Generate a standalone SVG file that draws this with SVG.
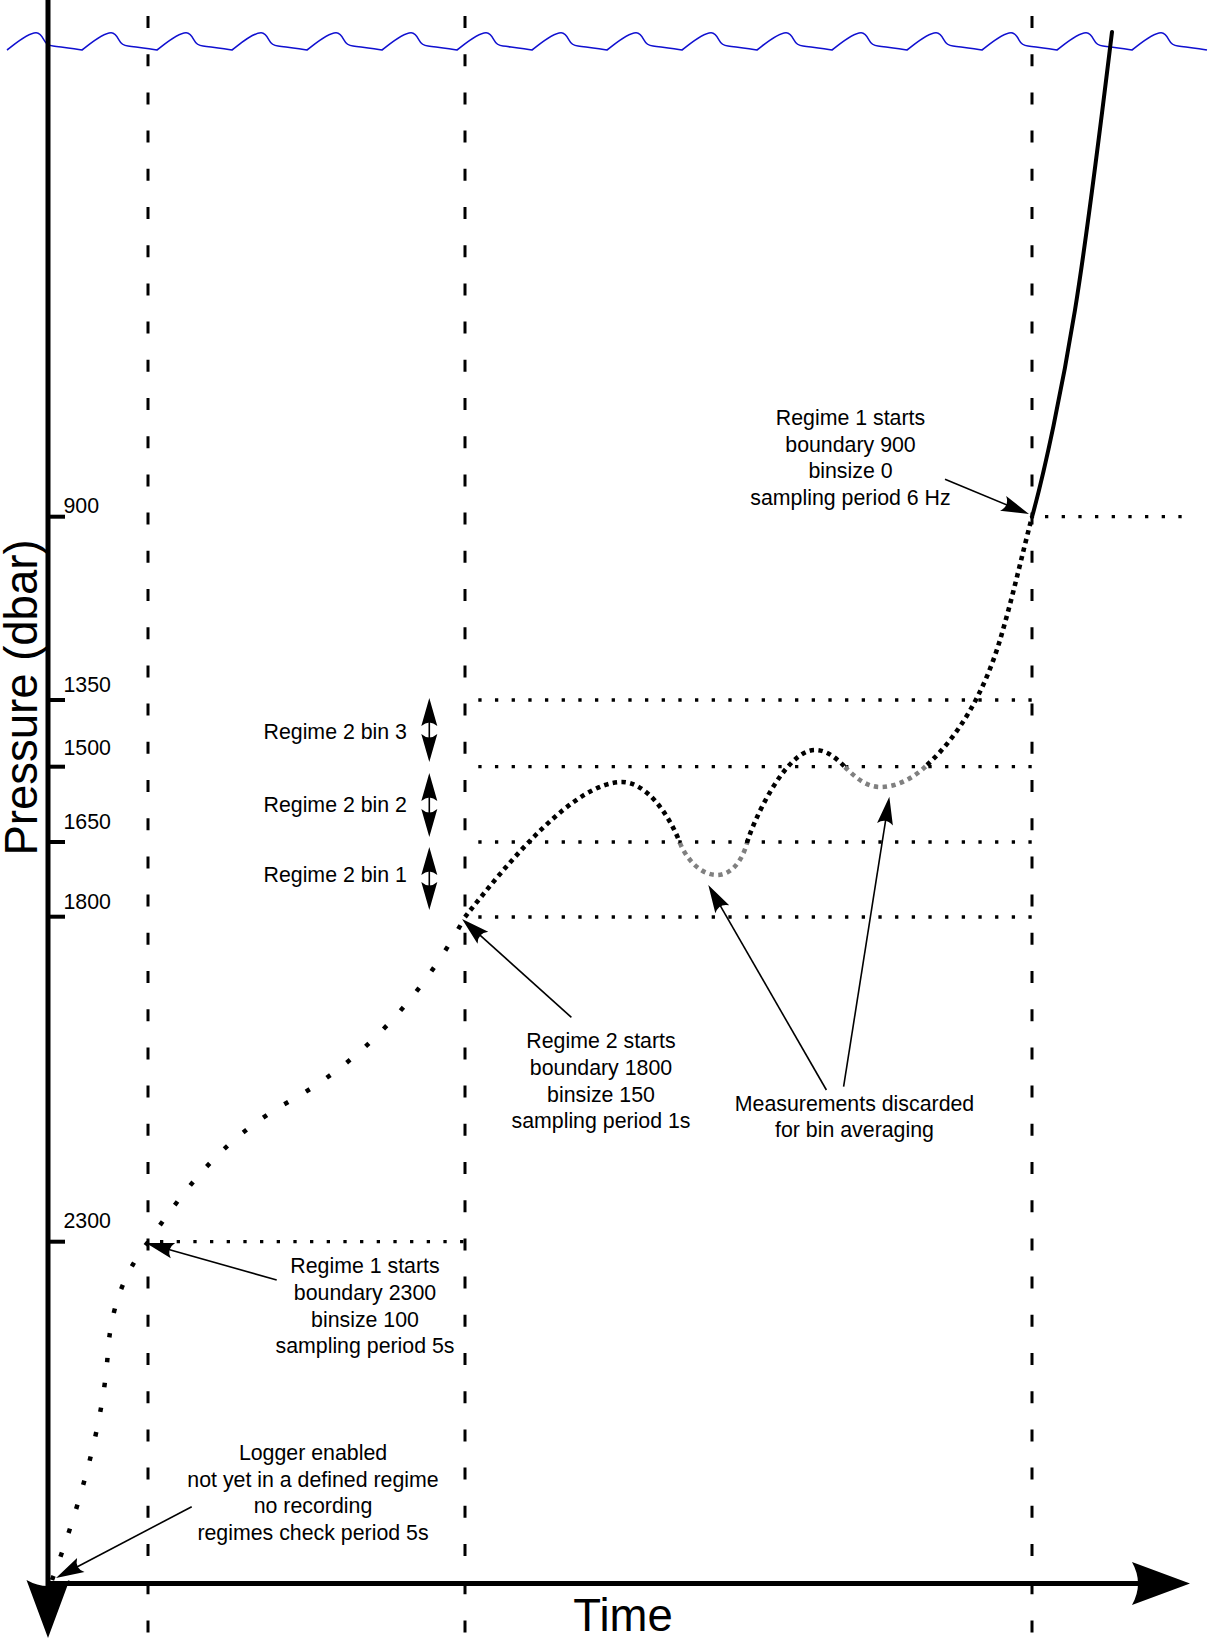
<svg xmlns="http://www.w3.org/2000/svg" width="1208" height="1642" viewBox="0 0 1208 1642">
<style>
.t{font-family:"Liberation Sans",Arial,sans-serif;font-size:21.33px;fill:#000}
.c{text-anchor:middle}
.big{font-family:"Liberation Sans",Arial,sans-serif;font-size:45.5px;fill:#000}
.vdash{stroke:#000;stroke-width:3;stroke-dasharray:12 26.2;fill:none}
.hdot{stroke:#000;stroke-width:3.3;stroke-dasharray:3.3 13.37;fill:none}
.tick{stroke:#000;stroke-width:4;fill:none}
.axis{stroke:#000;stroke-width:5;fill:none}
.sparse{stroke:#000;stroke-width:4.5;stroke-dasharray:4.5 20.5;fill:none}
.dense{stroke:#000;stroke-width:4.6;stroke-dasharray:4.4 4.4;fill:none}
.gray{stroke:#808080}
.solid{stroke:#000;stroke-width:4;fill:none;stroke-linecap:round}
.ann{stroke:#000;stroke-width:1.6;fill:none}
.wave{stroke:#1010d0;stroke-width:1.6;fill:none}
</style>
<defs>
<marker id="ah" markerUnits="userSpaceOnUse" viewBox="-30 -10 32 20" refX="-8" refY="0" markerWidth="32" markerHeight="20" orient="auto-start-reverse" overflow="visible">
<path d="M0,0 L-28,-8 Q-21,0 -28,8 Z" fill="#000"/>
</marker>
<marker id="bigah" markerUnits="userSpaceOnUse" viewBox="-62 -24 64 48" refX="-20" refY="0" markerWidth="64" markerHeight="48" orient="auto" overflow="visible">
<path d="M0,0 L-58,-21.5 Q-46,0 -58,21.5 Z" fill="#000"/>
</marker>
</defs>
<rect width="1208" height="1642" fill="#fff"/>

<g id="sea-surface">
<path class="wave" d="M7,50 c8,-6 20,-17 29,-17.3 c4,-0.1 6,3.3 8,7.3 c2,4 4,5.5 9,6 c12,1.5 22,2.5 29,4 c8,-6 20,-17 29,-17.3 c4,-0.1 6,3.3 8,7.3 c2,4 4,5.5 9,6 c12,1.5 22,2.5 29,4 c8,-6 20,-17 29,-17.3 c4,-0.1 6,3.3 8,7.3 c2,4 4,5.5 9,6 c12,1.5 22,2.5 29,4 c8,-6 20,-17 29,-17.3 c4,-0.1 6,3.3 8,7.3 c2,4 4,5.5 9,6 c12,1.5 22,2.5 29,4 c8,-6 20,-17 29,-17.3 c4,-0.1 6,3.3 8,7.3 c2,4 4,5.5 9,6 c12,1.5 22,2.5 29,4 c8,-6 20,-17 29,-17.3 c4,-0.1 6,3.3 8,7.3 c2,4 4,5.5 9,6 c12,1.5 22,2.5 29,4 c8,-6 20,-17 29,-17.3 c4,-0.1 6,3.3 8,7.3 c2,4 4,5.5 9,6 c12,1.5 22,2.5 29,4 c8,-6 20,-17 29,-17.3 c4,-0.1 6,3.3 8,7.3 c2,4 4,5.5 9,6 c12,1.5 22,2.5 29,4 c8,-6 20,-17 29,-17.3 c4,-0.1 6,3.3 8,7.3 c2,4 4,5.5 9,6 c12,1.5 22,2.5 29,4 c8,-6 20,-17 29,-17.3 c4,-0.1 6,3.3 8,7.3 c2,4 4,5.5 9,6 c12,1.5 22,2.5 29,4 c8,-6 20,-17 29,-17.3 c4,-0.1 6,3.3 8,7.3 c2,4 4,5.5 9,6 c12,1.5 22,2.5 29,4 c8,-6 20,-17 29,-17.3 c4,-0.1 6,3.3 8,7.3 c2,4 4,5.5 9,6 c12,1.5 22,2.5 29,4 c8,-6 20,-17 29,-17.3 c4,-0.1 6,3.3 8,7.3 c2,4 4,5.5 9,6 c12,1.5 22,2.5 29,4 c8,-6 20,-17 29,-17.3 c4,-0.1 6,3.3 8,7.3 c2,4 4,5.5 9,6 c12,1.5 22,2.5 29,4 c8,-6 20,-17 29,-17.3 c4,-0.1 6,3.3 8,7.3 c2,4 4,5.5 9,6 c12,1.5 22,2.5 29,4 c8,-6 20,-17 29,-17.3 c4,-0.1 6,3.3 8,7.3 c2,4 4,5.5 9,6 c12,1.5 22,2.5 29,4"/>
</g>

<g id="regime-lines">
<line class="vdash" x1="148" y1="16" x2="148" y2="1642"/>
<line class="vdash" x1="465" y1="16" x2="465" y2="1642"/>
<line class="vdash" x1="1032" y1="16" x2="1032" y2="1642"/>
<line class="hdot" x1="1045" y1="516.7" x2="1185" y2="516.7"/>
<line class="hdot" x1="478.3" y1="700" x2="1032" y2="700"/>
<line class="hdot" x1="478.3" y1="766.7" x2="1032" y2="766.7"/>
<line class="hdot" x1="478.3" y1="842" x2="1032" y2="842"/>
<line class="hdot" x1="478.3" y1="917" x2="1032" y2="917"/>
<line class="hdot" x1="160" y1="1241.7" x2="466" y2="1241.7"/>
</g>

<g id="axes">
<line class="axis" x1="48" y1="0" x2="48" y2="1618" marker-end="url(#bigah)"/>
<line class="axis" x1="46" y1="1583.5" x2="1170" y2="1583.5" marker-end="url(#bigah)"/>
<line class="tick" x1="46" y1="516.7" x2="65" y2="516.7"/>
<line class="tick" x1="46" y1="700" x2="65" y2="700"/>
<line class="tick" x1="46" y1="766.7" x2="65" y2="766.7"/>
<line class="tick" x1="46" y1="842" x2="65" y2="842"/>
<line class="tick" x1="46" y1="916.7" x2="65" y2="916.7"/>
<line class="tick" x1="46" y1="1241.7" x2="65" y2="1241.7"/>
<text class="t" x="63.5" y="513">900</text>
<text class="t" x="63.5" y="692">1350</text>
<text class="t" x="63.5" y="755">1500</text>
<text class="t" x="63.5" y="829">1650</text>
<text class="t" x="63.5" y="909">1800</text>
<text class="t" x="63.5" y="1228">2300</text>
<text class="big c" transform="translate(36.5,697.5) rotate(-90)" x="0" y="0">Pressure (dbar)</text>
<text class="big c" x="623" y="1631">Time</text>
</g>

<g id="profile">
<path class="sparse" d="M52,1580 C80,1505 104,1420 108,1350 C112,1300 128,1268 148,1242 C185,1190 220,1140 290,1101 C360,1062 420,1000 465,917"/>
<path class="dense" d="M465,917 C510,860 575,782 622,782 C645,782 668,812 680,843"/>
<path class="dense gray" d="M680,843 C686,858 700,875 717,875 C733,875 743,858 747,843"/>
<path class="dense" d="M747,843 C752,824 785,750 815,750 C828,750 838,760 845,767"/>
<path class="dense gray" d="M845,767 C855,777 866,787 880,787 C898,787 915,777 927,765"/>
<path class="dense" d="M927,765 C960,735 985,690 1000,640 C1012,600 1022,555 1032,517"/>
<path class="solid" d="M1032,517 C1045,470 1062,390 1075,310 C1088,230 1100,130 1112,32"/>
</g>

<g id="bins">
<line class="ann" x1="429.3" y1="706" x2="429.3" y2="754" marker-start="url(#ah)" marker-end="url(#ah)"/>
<line class="ann" x1="429.3" y1="781" x2="429.3" y2="829" marker-start="url(#ah)" marker-end="url(#ah)"/>
<line class="ann" x1="429.3" y1="855" x2="429.3" y2="902" marker-start="url(#ah)" marker-end="url(#ah)"/>
<text class="t" x="263.5" y="739">Regime 2 bin 3</text>
<text class="t" x="263.5" y="812">Regime 2 bin 2</text>
<text class="t" x="263.5" y="882">Regime 2 bin 1</text>
</g>

<g id="connectors">
<line class="ann" x1="191.7" y1="1506.7" x2="63.1" y2="1574.3" marker-end="url(#ah)"/>
<line class="ann" x1="276.7" y1="1280" x2="153.7" y2="1245.2" marker-end="url(#ah)"/>
<line class="ann" x1="571.4" y1="1017.3" x2="468" y2="924.4" marker-end="url(#ah)"/>
<line class="ann" x1="826.4" y1="1090" x2="712.3" y2="891.9" marker-end="url(#ah)"/>
<line class="ann" x1="843.6" y1="1086.7" x2="888.1" y2="804.6" marker-end="url(#ah)"/>
<line class="ann" x1="945" y1="479.3" x2="1021.6" y2="511" marker-end="url(#ah)"/>
</g>

<g id="note-regime1-900">
<text class="t c"><tspan x="850.5" y="425">Regime 1 starts</tspan><tspan x="850.5" y="451.7">boundary 900</tspan><tspan x="850.5" y="478.3">binsize 0</tspan><tspan x="850.5" y="505">sampling period 6 Hz</tspan></text>
</g>
<g id="note-regime2-1800">
<text class="t c"><tspan x="601" y="1048.3">Regime 2 starts</tspan><tspan x="601" y="1075">boundary 1800</tspan><tspan x="601" y="1101.7">binsize 150</tspan><tspan x="601" y="1128.3">sampling period 1s</tspan></text>
</g>
<g id="note-discarded">
<text class="t c"><tspan x="854.5" y="1110.7">Measurements discarded</tspan><tspan x="854.5" y="1137.3">for bin averaging</tspan></text>
</g>
<g id="note-regime1-2300">
<text class="t c"><tspan x="365" y="1273.3">Regime 1 starts</tspan><tspan x="365" y="1300">boundary 2300</tspan><tspan x="365" y="1326.7">binsize 100</tspan><tspan x="365" y="1353.3">sampling period 5s</tspan></text>
</g>
<g id="note-logger">
<text class="t c"><tspan x="313" y="1460">Logger enabled</tspan><tspan x="313" y="1486.7">not yet in a defined regime</tspan><tspan x="313" y="1513.3">no recording</tspan><tspan x="313" y="1540">regimes check period 5s</tspan></text>
</g>
</svg>
